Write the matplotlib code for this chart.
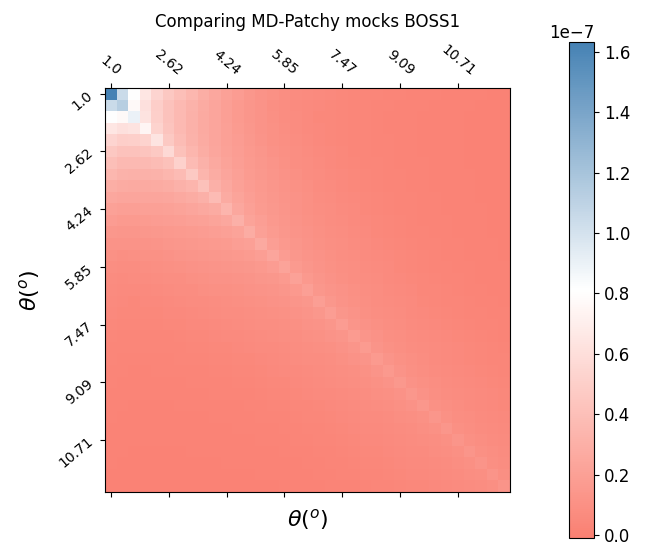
import numpy as np
import matplotlib
matplotlib.use("Agg")
import matplotlib.pyplot as plt
from matplotlib.colors import LinearSegmentedColormap

# variance of each theta bin (units of 1e-9)
diag_var = [163, 113, 90, 75, 64, 57, 52, 47, 42, 38, 34, 31, 28, 26, 24,
            22.5, 21, 20, 19, 18.5, 18, 17.5, 17, 16.5, 16, 15.5, 15, 14.5,
            14, 13.8, 13.5, 13.2, 13, 12.7, 12.5]
# correlation between bins as a function of bin separation
corr_lag = [1.0, 0.77, 0.67, 0.59, 0.53, 0.48, 0.44, 0.40, 0.36, 0.32, 0.28,
            0.25, 0.22, 0.19, 0.17, 0.15, 0.13, 0.12, 0.11, 0.10, 0.09, 0.082,
            0.075, 0.069, 0.064, 0.059, 0.055, 0.051, 0.048, 0.045, 0.042,
            0.039, 0.036, 0.034, 0.032]
tick_idx = [0, 5, 10, 15, 20, 25, 30]
tick_labels = ['1.0', '2.62', '4.24', '5.85', '7.47', '9.09', '10.71']

n = len(diag_var)
sig = np.sqrt(np.array(diag_var))
lag = np.abs(np.arange(n)[:, None] - np.arange(n)[None, :])
cov = np.outer(sig, sig) * np.array(corr_lag)[lag] * 1e-9

cmap = LinearSegmentedColormap.from_list('sws', ['salmon', 'white', 'steelblue'])

fig = plt.figure(figsize=(6.5, 5.45), dpi=100)
ax = fig.add_axes([105/650, 53/545, 405/650, 404/545])
cax = fig.add_axes([569/650, 7/545, 25/650, 496/545])

im = ax.imshow(cov, cmap=cmap, vmin=-0.01e-7, vmax=1.633e-7, aspect='auto')
ax.set_xticks(tick_idx)
ax.set_xticklabels(tick_labels, rotation=-40, fontsize=10)
ax.set_yticks(tick_idx)
ax.set_yticklabels(tick_labels, rotation=40, fontsize=10)
ax.tick_params(axis='x', top=True, bottom=True, labeltop=True, labelbottom=False)
ax.set_xlabel(r'$\theta(^o)$', fontsize=16, labelpad=7)
ax.set_ylabel(r'$\theta(^o)$', fontsize=16, labelpad=10)
ax.set_title('Comparing MD-Patchy mocks BOSS1', fontsize=12, pad=11)

cb = fig.colorbar(im, cax=cax)
cb.ax.tick_params(labelsize=12)
cb.ax.yaxis.get_offset_text().set_fontsize(12)

fig.savefig('out.png', dpi=100)
